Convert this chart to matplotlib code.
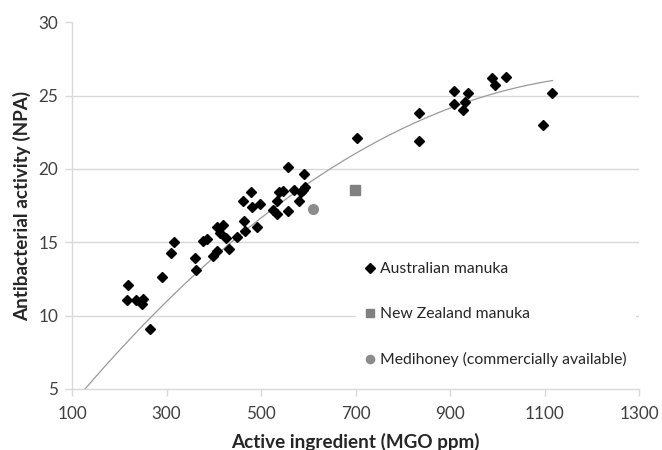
import matplotlib
matplotlib.use("Agg")
import matplotlib.pyplot as plt
import numpy as np

plt.rcParams['font.family'] = ['Lato', 'DejaVu Sans']

# Australian manuka (MGO ppm, NPA)
aus_mgo = [219, 216, 235, 251, 249, 265, 290, 309, 316, 359, 362, 376, 385,
           406, 419, 413, 425, 431, 406, 399, 448, 465, 463, 492, 461, 479,
           480, 498, 526, 534, 556, 533, 538, 547, 570, 589, 584, 581, 592,
           557, 591, 703, 834, 833, 907, 908, 937, 932, 926, 989, 995, 1018,
           1116, 1097]
aus_npa = [12.1, 11.1, 11.1, 11.15, 10.8, 9.1, 12.65, 14.3, 15.0, 13.9, 13.1,
           15.1, 15.2, 16.05, 16.15, 15.65, 15.3, 14.55, 14.4, 14.05, 15.37,
           15.75, 16.45, 16.05, 17.8, 18.4, 17.4, 17.6, 17.2, 16.95, 17.15,
           17.85, 18.4, 18.5, 18.6, 18.6, 18.4, 17.8, 18.75, 20.15, 19.65,
           22.1, 23.8, 21.9, 25.3, 24.45, 25.2, 24.6, 24.0, 26.2, 25.7, 26.3,
           25.2, 23.0]
nz_mgo = [698]
nz_npa = [18.6]
medi_mgo = [610]
medi_npa = [17.3]

# polynomial trendline: y = c0 + c1*x + c2*x^2
trend_coef = [-0.035, 0.041569, -1.632e-5]
trend_range = [127, 1116]

labels = ['Australian manuka', 'New Zealand manuka',
          'Medihoney (commercially available)']

fig = plt.figure(figsize=(6.62, 4.5), dpi=100)
ax = fig.add_axes([0.1088, 0.1356, 0.966 - 0.1088, 0.9504 - 0.1356])

xt = np.linspace(trend_range[0], trend_range[1], 200)
yt = trend_coef[0] + trend_coef[1] * xt + trend_coef[2] * xt ** 2
ax.plot(xt, yt, color='#9a9a9a', lw=0.9, zorder=2)

ax.plot(aus_mgo, aus_npa, 'D', color='black', ms=5.4, ls='none',
        label=labels[0], zorder=3)
ax.plot(nz_mgo, nz_npa, 's', color='#808080', ms=7, ls='none',
        label=labels[1], zorder=3)
ax.plot(medi_mgo, medi_npa, 'o', color='#8c8c8c', ms=7, ls='none',
        label=labels[2], zorder=3)

ax.set_xlim(100, 1300)
ax.set_ylim(5, 30)
ax.set_xticks(np.arange(100, 1301, 200))
ax.set_yticks(np.arange(5, 31, 5))
for v in [10, 15, 20, 25]:
    ax.axhline(v, color='#d9d9d9', lw=1.0, zorder=1)

for s in ['top', 'right']:
    ax.spines[s].set_visible(False)
for s in ['left', 'bottom']:
    ax.spines[s].set_color('#d9d9d9')
    ax.spines[s].set_linewidth(1.0)
ax.tick_params(axis='both', colors='#d9d9d9', labelcolor='#404040',
               labelsize=12.3, length=5, width=1.0, direction='out')
ax.tick_params(axis='x', pad=7)
ax.tick_params(axis='y', pad=5)

ax.set_xlabel('Active ingredient (MGO ppm)', fontsize=13.6, fontweight='bold',
              color='#262626', labelpad=8)
ax.set_ylabel('Antibacterial activity (NPA)', fontsize=13.6, fontweight='bold',
              color='#262626', labelpad=5)

leg = ax.legend(loc='upper left', bbox_to_anchor=(348 / 662, 1 - 245 / 450),
                bbox_transform=fig.transFigure, frameon=True, fancybox=False,
                facecolor='white', edgecolor='none', framealpha=1,
                fontsize=11.3, handlelength=0.6, handletextpad=0.35,
                labelspacing=1.98, borderpad=0.6, markerscale=0.85)
leg.set_zorder(5)
for t in leg.get_texts():
    t.set_color('#262626')

fig.savefig('out.png', dpi=100)
